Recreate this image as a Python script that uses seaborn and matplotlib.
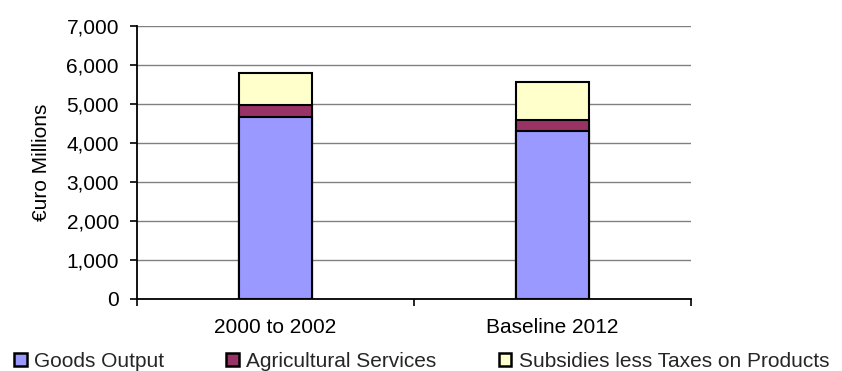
import numpy as np
import pandas as pd
import matplotlib
matplotlib.use("Agg")
import matplotlib.pyplot as plt
from matplotlib.patches import Patch
from matplotlib.ticker import FuncFormatter, MultipleLocator
import seaborn as sns

# values (euro millions)
periods = ["2000 to 2002", "Baseline 2012"]
goods_output = [4665, 4305]
agricultural_services = [310, 290]
subsidies_less_taxes = [830, 975]

series_names = ["Goods Output", "Agricultural Services", "Subsidies less Taxes on Products"]
colors = ["#9999FF", "#993366", "#FFFFCC"]

sns.set_theme(style="white")
plt.rcParams["font.family"] = ["Liberation Sans", "DejaVu Sans"]
fs = 15

df = pd.DataFrame({
    "period": periods,
    "goods": goods_output,
    "ag": agricultural_services,
    "subs": subsidies_less_taxes,
})
# cumulative heights, drawn back to front so the stack looks right
df["lvl1"] = df["goods"]
df["lvl2"] = df["goods"] + df["ag"]
df["lvl3"] = df["goods"] + df["ag"] + df["subs"]

fig = plt.figure(figsize=(8.42, 3.71), dpi=100)
ax = fig.add_axes([137 / 842, 1 - 299 / 371, 554 / 842, 273 / 371])

for col, color in zip(["lvl3", "lvl2", "lvl1"], colors[::-1]):
    sns.barplot(data=df, x="period", y=col, color=color, width=0.264,
                edgecolor="black", linewidth=1.5, saturation=1, ax=ax, zorder=3)

ax.set_xlim(-0.5, 1.5)
ax.set_ylim(0, 7000)
ax.yaxis.set_major_locator(MultipleLocator(1000))
ax.yaxis.set_major_formatter(FuncFormatter(lambda v, p: f"{int(v):,}"))
ax.grid(axis="y", color="#808080", linewidth=1, zorder=0)
ax.set_axisbelow(True)

for side in ["top", "right"]:
    ax.spines[side].set_visible(False)
for side in ["left", "bottom"]:
    ax.spines[side].set_color("black")
    ax.spines[side].set_linewidth(1.3)

ax.set_xlabel("")
ax.set_ylabel("€uro Millions", fontsize=fs, color="black", labelpad=11)
ax.tick_params(axis="y", which="major", left=True, direction="out", length=5,
               width=1.2, color="black", labelsize=fs, labelcolor="black", pad=8)
ax.tick_params(axis="x", which="major", length=0, labelsize=fs, labelcolor="black", pad=14)
ax.set_xticks([-0.5, 0.5, 1.5], minor=True)
ax.tick_params(axis="x", which="minor", bottom=True, direction="out", length=5,
               width=1.2, color="black")

handles = [Patch(facecolor=c, edgecolor="black", linewidth=1.8) for c in colors]
fig.legend(handles, series_names, loc="lower left", bbox_to_anchor=(0.008, -0.02),
           ncol=3, frameon=False, fontsize=fs, handlelength=0.6, handleheight=0.6,
           handletextpad=0.35, columnspacing=3.0, borderaxespad=0.1, borderpad=0.25)

fig.savefig("out.png", dpi=100)
